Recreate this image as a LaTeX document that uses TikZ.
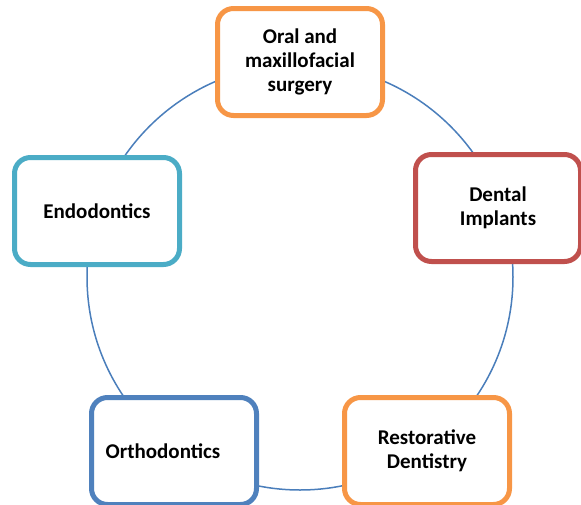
\documentclass[tikz,border=0pt]{standalone}
\usepackage{fontspec}
\setmainfont{Carlito}
\usepackage{tikz}

\definecolor{ringblue}{HTML}{4A7EBB}
\definecolor{surgorange}{HTML}{F79646}
\definecolor{implred}{HTML}{C0504D}
\definecolor{endoaqua}{HTML}{4BACC6}
\definecolor{orthoblue}{HTML}{4F81BD}

\begin{document}
\begin{tikzpicture}[x=1pt,y=-1pt,
    area/.style={draw,line width=5pt,rounded corners=16pt,fill=white,
      minimum width=165pt,minimum height=107pt,align=center,
      font=\fontsize{21}{24}\selectfont\bfseries}]

\useasboundingbox (0,0) rectangle (581,504);

% Ring
\coordinate (c) at (300,277);
\draw[ringblue,line width=1.5pt] (c) circle (213pt);

% Top
\node[area,draw=surgorange] (surgery) at (300,62) {Oral and\\maxillofacial\\surgery};

% Sides
\node[area,draw=implred] (implants) at (498,208) {Dental\\Implants};
\node[area,draw=endoaqua] (endo) at (97,211) {Endodontics};

% Bottom
\node[area,draw=surgorange] (restorative) at (427,451) {Restorative\\Dentistry};
\node[area,draw=orthoblue] (ortho) at (174,451) {Orthodontics\hspace{22pt}};
\end{tikzpicture}
\end{document}
